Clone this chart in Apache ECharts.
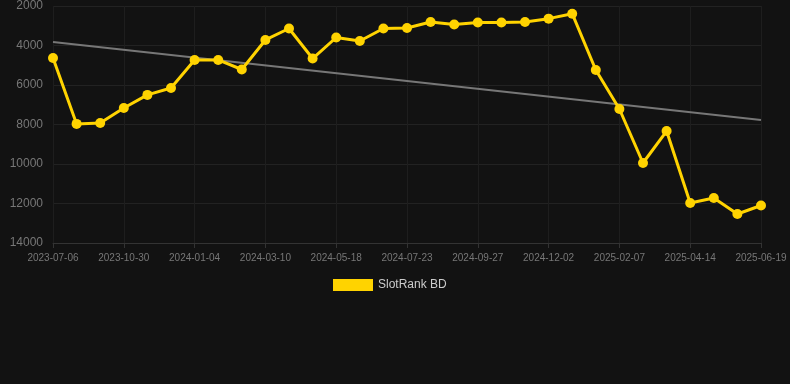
<!DOCTYPE html>
<html><head><meta charset="utf-8">
<script src="https://cdn.jsdelivr.net/npm/echarts@6/dist/echarts.min.js"></script>
<style>html,body{margin:0;padding:0;background:#121212;}#c{width:790px;height:384px;}</style>
</head><body><div id="c"></div>
<script>
const categories = ["2023-07-06","2023-09-14","2023-10-08","2023-10-30","2023-11-21","2023-12-13","2024-01-04","2024-01-26","2024-02-17","2024-03-10","2024-04-02","2024-04-25","2024-05-18","2024-06-09","2024-07-01","2024-07-23","2024-08-14","2024-09-05","2024-09-27","2024-10-19","2024-11-10","2024-12-02","2024-12-24","2025-01-16","2025-02-07","2025-03-01","2025-03-23","2025-04-14","2025-05-06","2025-05-28","2025-06-19"];
const rankValues = [4630,7970,7920,7165,6500,6150,4730,4730,5215,3720,3140,4660,3595,3770,3140,3115,2810,2935,2835,2835,2810,2640,2390,5240,7215,9950,8330,11975,11720,12530,12100];
const trendEnds = [3820, 7770];
const yTicks = [2000, 14000, 2000]; // min, max, interval

const trendData = categories.map((c,i)=> i===0 ? trendEnds[0] : (i===categories.length-1 ? trendEnds[1] : null));

const chart = echarts.init(document.getElementById('c'));
chart.setOption({
  backgroundColor:'#121212',
  animation:false,
  grid:{left:53,right:29,top:6,bottom:141},
  legend:{
    data:['SlotRank BD'], top:274, left:328,
    itemWidth:40, itemHeight:12, icon:'rect',
    textStyle:{color:'#cccccc',fontSize:12,fontFamily:'Arial, Liberation Sans, sans-serif'}
  },
  xAxis:{
    type:'category', data:categories, boundaryGap:false,
    axisLine:{lineStyle:{color:'#333'}},
    axisTick:{show:true,interval:2,lineStyle:{color:'#333'}},
    axisLabel:{interval:2,color:'#777',fontSize:10,fontFamily:'Arial, Liberation Sans, sans-serif',margin:10},
    splitLine:{show:true,interval:2,lineStyle:{color:'#1e1e1e'}}
  },
  yAxis:{
    type:'value', inverse:true, min:yTicks[0], max:yTicks[1], interval:yTicks[2],
    axisLine:{show:false}, axisTick:{show:false},
    axisLabel:{color:'#777',fontSize:12,fontFamily:'Arial, Liberation Sans, sans-serif',margin:10,formatter:v=>String(v)},
    splitLine:{lineStyle:{color:'#222'}}
  },
  series:[
    {name:'SlotRank BD',type:'line',data:rankValues,
     lineStyle:{color:'#FFD300',width:3},itemStyle:{color:'#FFD300'},
     symbol:'circle',symbolSize:10,z:3},
    {name:'trend',type:'line',data:trendData,connectNulls:true,
     lineStyle:{color:'#777',width:2},itemStyle:{color:'#777'},showSymbol:false,symbol:'none',z:2}
  ]
});
</script></body></html>
